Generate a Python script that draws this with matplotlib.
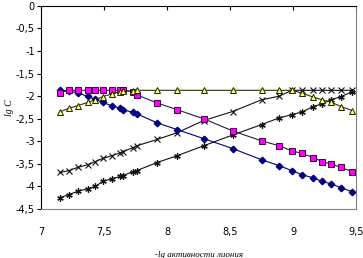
import numpy as np
import matplotlib
matplotlib.use("Agg")
import matplotlib.pyplot as plt
from matplotlib.ticker import FuncFormatter

# ── Data ──────────────────────────────────────────────────────────────────────
x = [7.15, 7.22, 7.29, 7.37, 7.43, 7.49, 7.56, 7.63, 7.65, 7.73, 7.76, 7.92,
     8.08, 8.29, 8.52, 8.75, 8.89, 8.99, 9.07, 9.16, 9.23, 9.30, 9.38, 9.47]

diamonds = [-1.87, -1.88, -1.93, -2.00, -2.07, -2.14, -2.21, -2.27, -2.30, -2.36,
            -2.39, -2.59, -2.74, -2.94, -3.16, -3.41, -3.54, -3.65, -3.74, -3.81,
            -3.89, -3.94, -4.03, -4.12]
squares = [-1.92, -1.87, -1.87, -1.87, -1.87, -1.87, -1.87, -1.87, -1.87, -1.90,
           -1.97, -2.15, -2.30, -2.50, -2.77, -2.99, -3.10, -3.21, -3.27, -3.36,
           -3.45, -3.50, -3.58, -3.67]
triangles = [-2.35, -2.27, -2.21, -2.14, -2.08, -2.01, -1.95, -1.90, -1.89, -1.88,
             -1.87, -1.87, -1.87, -1.87, -1.87, -1.87, -1.87, -1.87, -1.93, -2.02,
             -2.08, -2.13, -2.23, -2.32]
crosses = [-3.69, -3.65, -3.58, -3.52, -3.45, -3.38, -3.32, -3.25, -3.23, -3.14,
           -3.10, -2.96, -2.81, -2.54, -2.34, -2.08, -2.00, -1.87, -1.87, -1.87,
           -1.87, -1.87, -1.87, -1.87]
stars = [-4.25, -4.18, -4.11, -4.05, -4.00, -3.89, -3.83, -3.78, -3.76, -3.67,
         -3.65, -3.47, -3.32, -3.10, -2.86, -2.63, -2.48, -2.41, -2.35, -2.23,
         -2.17, -2.08, -2.01, -1.90]

xticks = [7, 7.5, 8, 8.5, 9, 9.5]
yticks = [0, -0.5, -1, -1.5, -2, -2.5, -3, -3.5, -4, -4.5]

# ── Figure ────────────────────────────────────────────────────────────────────
fig = plt.figure(figsize=(3.63, 2.58), dpi=100)
ax = fig.add_axes([0.113, 0.19, 0.868, 0.787])

lw = 0.8
ax.plot(x, diamonds, color="#000080", lw=lw, marker="D", ms=3.3,
        mfc="#000080", mec="#000080", zorder=3)
ax.plot(x, squares, color="#202040", lw=lw, marker="s", ms=3.8,
        mfc="#FF00FF", mec="#400040", mew=0.7, zorder=4)
ax.plot(x, triangles, color="#333300", lw=lw, marker="^", ms=4.0,
        mfc="#FFFF66", mec="#222200", mew=0.7, zorder=5)
ax.plot(x, crosses, color="#111111", lw=lw, marker="x", ms=4.2,
        mec="#111111", mew=0.8, zorder=2)
ax.plot(x, stars, color="#111111", lw=lw, marker=(6, 2, 0), ms=4.6,
        mec="#111111", mew=0.9, zorder=2)

ax.set_xlim(7, 9.5)
ax.set_ylim(-4.5, 0)

comma = FuncFormatter(lambda v, p: (f"{v:g}").replace(".", ","))
ax.set_xticks(xticks)
ax.set_yticks(yticks)
ax.xaxis.set_major_formatter(comma)
ax.yaxis.set_major_formatter(comma)

# Excel style: x axis crosses at 0 (top), labels stay at the bottom
ax.tick_params(axis="x", which="both", bottom=False, top=True, direction="in",
               length=3, width=0.8, labelsize=7, pad=13, labelbottom=True,
               colors="black")
ax.tick_params(axis="y", direction="out", length=3, width=0.8, labelsize=7,
               pad=1.5)
ax.spines["top"].set_color("black")
ax.spines["left"].set_color("black")
ax.spines["bottom"].set_color("#808080")
ax.spines["right"].set_color("#808080")
for s in ax.spines.values():
    s.set_linewidth(0.8)

ax.set_xlabel("-lg активности лиония", fontsize=6.5, style="italic",
              family=["Liberation Serif", "DejaVu Serif"], labelpad=10)
ax.set_ylabel("lg C", fontsize=7, style="italic",
              family=["Liberation Serif", "DejaVu Serif"], labelpad=1)

fig.savefig("out.png", dpi=100, facecolor="white")
